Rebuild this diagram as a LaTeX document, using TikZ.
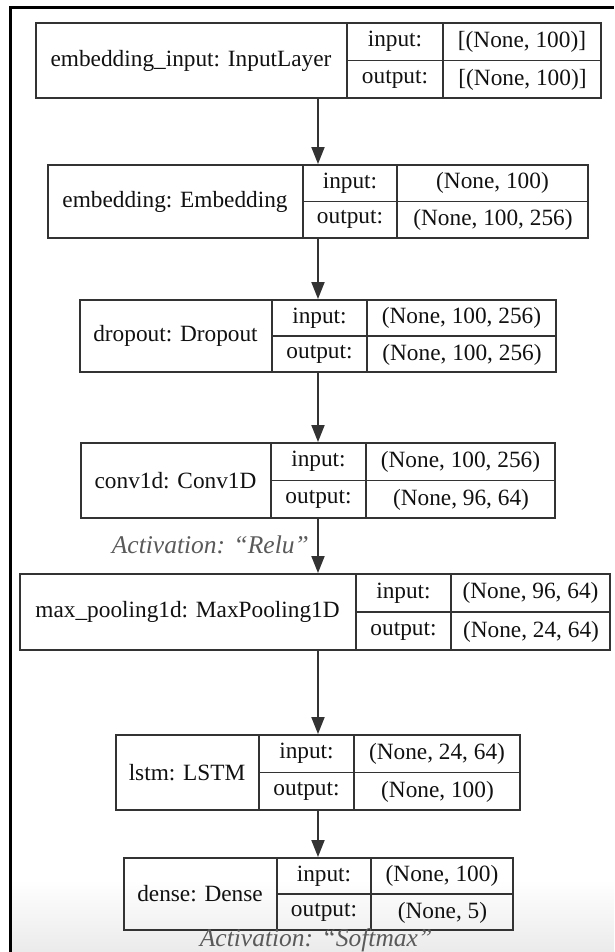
\documentclass[tikz,border=0pt]{standalone}
\usepackage{fontspec}
\setmainfont{Liberation Serif}
\usetikzlibrary{arrows.meta,calc}

\definecolor{inkline}{HTML}{333333}
\definecolor{inktext}{HTML}{111111}
\definecolor{acttext}{HTML}{5A5A5A}

\tikzset{
  layerbox/.style={draw=inkline, line width=1.9pt, inner sep=0pt},
  divider/.style={draw=inkline, line width=1.9pt},
  celltext/.style={text=inktext, font=\fontsize{23.3}{27}\selectfont, inner sep=0pt},
  acttext/.style={text=acttext, font=\fontsize{25.5}{30}\selectfont\itshape, inner sep=0pt},
  flow/.style={draw=inkline, line width=1.9pt, -{Triangle[length=17pt,width=13pt]}},
}

% #1 name, #2 left, #3 right, #4 top, #5 bottom, #6 first divider, #7 second divider
\newcommand\layergeom[7]{%
  \node[layerbox, minimum width={(#3-#2)*1pt}, minimum height={(#5-#4)*1pt}]
    (#1) at ({(#2+#3)/2},{(#4+#5)/2}) {};
  \coordinate (#1-d1t) at (#6,#4);
  \coordinate (#1-d1b) at (#6,#5);
  \coordinate (#1-d2t) at (#7,#4);
  \coordinate (#1-d2b) at (#7,#5);
  \coordinate (#1-ml) at (#6,{(#4+#5)/2});
  \coordinate (#1-m2) at (#7,{(#4+#5)/2});
  \coordinate (#1-mr) at (#3,{(#4+#5)/2});
  \draw[divider] (#1-d1t) -- (#1-d1b);
  \draw[divider] (#1-d2t) -- (#1-d2b);
  \draw[divider] (#1-ml) -- (#1-mr);
}
% #1 name, #2 title, #3 input shape, #4 output shape
\newcommand\layertext[4]{%
  \node[celltext] (#1-title) at ($(#1.west)!.5!(#1-ml)$) {#2};
  \node[celltext] (#1-inl) at ($(#1-d1t)!.5!(#1-m2)$) {input:};
  \node[celltext] (#1-inv) at ($(#1-d2t)!.5!(#1-mr)$) {#3};
  \node[celltext] (#1-outl) at ($(#1-ml)!.5!(#1-d2b)$) {output:};
  \node[celltext] (#1-outv) at ($(#1-m2)!.5!(#1.south east)$) {#4};
}

\begin{document}
\begin{tikzpicture}[x=1pt,y=-1pt]
  \useasboundingbox (0,0) rectangle (614,952);
  \fill[white] (0,0) rectangle (614,952);
  % soft grey band along the lower edge
  \fill[top color=white, bottom color=black!8] (11,880) rectangle (614,952);
  % frame
  \draw[black, line width=3pt] (10.5,952) -- (10.5,8) -- (614,8);

  \layergeom{inp}{36}{601}{23}{98}{347}{443}
  \layertext{inp}{embedding\_input: InputLayer}{[(None, 100)]}{[(None, 100)]}

  \layergeom{emb}{48}{588}{165}{238}{303}{397}
  \layertext{emb}{embedding: Embedding}{(None, 100)}{(None, 100, 256)}

  \layergeom{drop}{80}{556}{300}{372}{272}{367}
  \layertext{drop}{dropout: Dropout}{(None, 100, 256)}{(None, 100, 256)}

  \layergeom{conv}{81}{555}{443}{518}{271}{366}
  \layertext{conv}{conv1d: Conv1D}{(None, 100, 256)}{(None, 96, 64)}

  \layergeom{pool}{20}{610}{574}{650}{356}{451}
  \layertext{pool}{max\_pooling1d: MaxPooling1D}{(None, 96, 64)}{(None, 24, 64)}

  \layergeom{lstm}{116}{520}{735}{810}{259}{354}
  \layertext{lstm}{lstm: LSTM}{(None, 24, 64)}{(None, 100)}

  \layergeom{dense}{124}{513}{858}{930}{277}{371}
  \layertext{dense}{dense: Dense}{(None, 100)}{(None, 5)}

  % connectors
  \coordinate (spine) at (318,0);
  \draw[flow] (spine |- inp.south) -- (spine |- emb.north);
  \draw[flow] (spine |- emb.south) -- (spine |- drop.north);
  \draw[flow] (spine |- drop.south) -- (spine |- conv.north);
  \draw[flow] (spine |- conv.south) -- (spine |- pool.north);
  \draw[flow] (spine |- pool.south) -- (spine |- lstm.north);
  \draw[flow] (spine |- lstm.south) -- (spine |- dense.north);

  % activation notes
  \node[acttext, anchor=east] (relu) at (309,545) {Activation: “Relu”};
  \node[acttext] (softmax) at (316,940) {Activation: “Softmax”};
\end{tikzpicture}
\end{document}
